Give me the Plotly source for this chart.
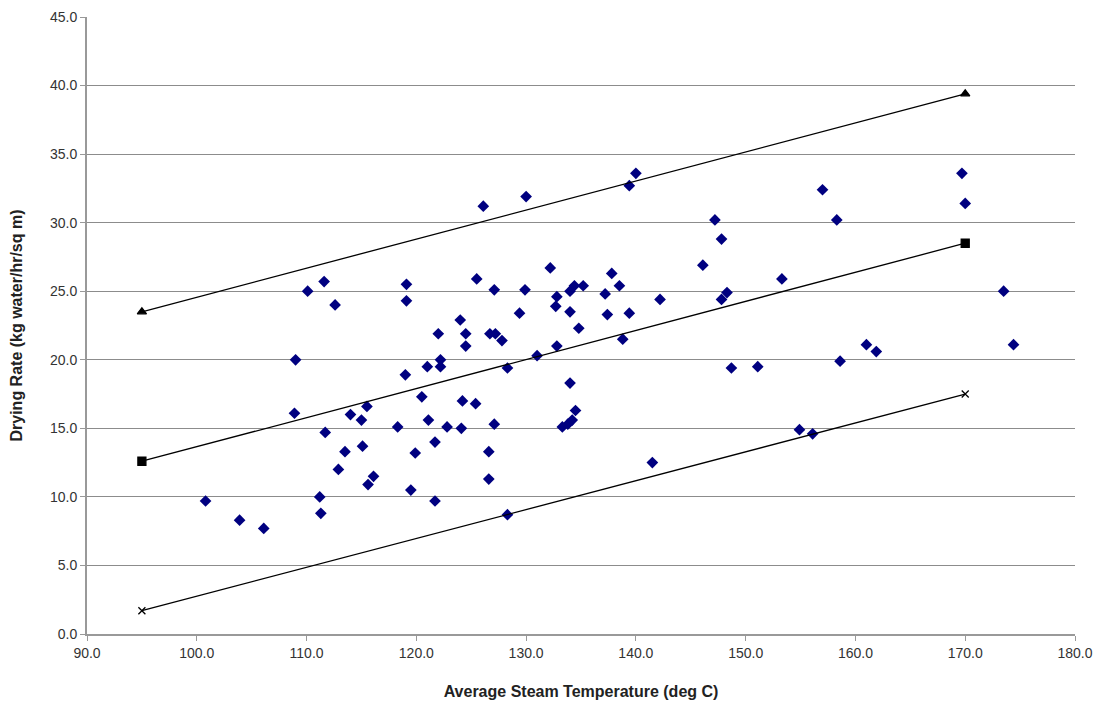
import plotly.graph_objects as go

temp = [100.8, 103.9, 106.1, 108.9, 109.0, 110.1, 111.2, 111.3, 111.6, 111.7,
        112.6, 112.9, 113.5, 114.0, 115.0, 115.1, 115.5, 115.6, 116.1, 118.3,
        119.0, 119.1, 119.1, 119.5, 119.9, 120.5, 121.0, 121.1, 121.7, 121.7,
        122.0, 122.2, 122.2, 122.8, 124.0, 124.1, 124.2, 124.5, 124.5, 125.4,
        125.5, 126.1, 126.6, 126.6, 126.7, 127.1, 127.1, 127.2, 127.8, 128.3,
        128.3, 129.4, 129.9, 130.0, 131.0, 132.2, 132.8, 132.7, 132.8, 133.3,
        133.8, 134.0, 134.0, 134.0, 134.2, 134.4, 134.5, 134.8, 135.2, 137.2,
        137.4, 137.8, 138.5, 138.8, 139.4, 139.4, 140.0, 141.5, 142.2, 146.1,
        147.2, 147.8, 147.8, 148.3, 148.7, 151.1, 153.3, 154.9, 156.1, 157.0,
        158.3, 158.6, 161.0, 161.9, 169.7, 170.0, 173.5, 174.4]
rate = [9.7, 8.3, 7.7, 16.1, 20.0, 25.0, 10.0, 8.8, 25.7, 14.7,
        24.0, 12.0, 13.3, 16.0, 15.6, 13.7, 16.6, 10.9, 11.5, 15.1,
        18.9, 25.5, 24.3, 10.5, 13.2, 17.3, 19.5, 15.6, 9.7, 14.0,
        21.9, 20.0, 19.5, 15.1, 22.9, 15.0, 17.0, 21.0, 21.9, 16.8,
        25.9, 31.2, 11.3, 13.3, 21.9, 15.3, 25.1, 21.9, 21.4, 8.7,
        19.4, 23.4, 25.1, 31.9, 20.3, 26.7, 24.6, 23.9, 21.0, 15.1,
        15.3, 25.0, 23.5, 18.3, 15.6, 25.4, 16.3, 22.3, 25.4, 24.8,
        23.3, 26.3, 25.4, 21.5, 23.4, 32.7, 33.6, 12.5, 24.4, 26.9,
        30.2, 28.8, 24.4, 24.9, 19.4, 19.5, 25.9, 14.9, 14.6, 32.4,
        30.2, 19.9, 21.1, 20.6, 33.6, 31.4, 25.0, 21.1]

line_x = [95, 170]
upper_y = [23.5, 39.4]
mid_y = [12.6, 28.5]
lower_y = [1.7, 17.5]

fig = go.Figure()
fig.add_trace(go.Scatter(x=temp, y=rate, mode="markers",
                         marker=dict(symbol="diamond", size=9, color="#000080"),
                         showlegend=False))
for ys, sym, sz in [(upper_y, "triangle-up", 8), (mid_y, "square", 8), (lower_y, "x-thin", 7)]:
    fig.add_trace(go.Scatter(x=line_x, y=ys, mode="lines+markers",
                             line=dict(color="black", width=1.3),
                             marker=dict(symbol=sym, size=sz, color="black",
                                         line=dict(color="black", width=1.3)),
                             showlegend=False))

fam = "Liberation Sans, Arial, sans-serif"
tick_font = dict(family=fam, size=14, color="#333")
title_font = dict(family=fam, size=16, color="#222")
fig.update_layout(
    width=1094, height=697,
    margin=dict(l=79, r=27, t=9, b=71),
    plot_bgcolor="white", paper_bgcolor="white",
    font=dict(family=fam),
    xaxis=dict(range=[90, 180], dtick=10, tickformat=".1f", showgrid=False,
               showline=True, linecolor="#999", linewidth=2,
               ticks="outside", ticklen=5, tickcolor="#999", zeroline=False,
               tickfont=tick_font, automargin=False, ticklabeloverflow="allow",
               title=dict(text="<b>Average Steam Temperature (deg C)</b>",
                          font=title_font, standoff=26)),
    yaxis=dict(range=[0, 45], dtick=5, tickformat=".1f", showgrid=True,
               gridcolor="#8c8c8c", gridwidth=1,
               showline=True, linecolor="#999", linewidth=2,
               ticks="outside", ticklen=5, tickcolor="#999", zeroline=False,
               tickfont=tick_font, automargin=False, ticklabeloverflow="allow",
               title=dict(text="<b>Drying Rate (kg water/hr/sq m)</b>",
                          font=title_font, standoff=24)),
)
fig.write_html("out.html")
